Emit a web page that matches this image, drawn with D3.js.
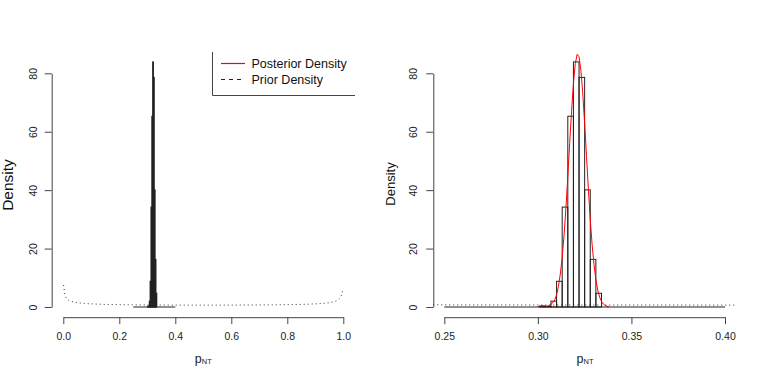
<!DOCTYPE html>
<html><head><meta charset="utf-8">
<script src="https://cdn.jsdelivr.net/npm/d3@7"></script>
<style>
body{margin:0;background:#fff;}
svg{display:block;font-family:"Liberation Sans",Arial,Helvetica,sans-serif;}
</style></head>
<body><svg id="c" width="763" height="382"></svg>
<script>
// ---- data ----
// histogram bins (left edge) and heights (density)
const binStart = [0.301,0.304,0.307,0.310,0.313,0.316,0.319,0.322,0.325,0.328,0.331];
const binWidth = 0.003;
const binDensity = [0.3,0.2,2.0,8.8,34.2,65.3,83.9,78.6,40.1,16.3,4.7];
// posterior density curve (red)
const postX = [0.300,0.301,0.302,0.303,0.304,0.305,0.306,0.307,0.308,0.309,0.310,0.311,0.312,0.313,0.314,0.315,0.316,0.317,0.318,0.319,0.320,0.321,0.322,0.323,0.324,0.325,0.326,0.327,0.328,0.329,0.330,0.331,0.332,0.333,0.334,0.335,0.336,0.337,0.338];
const postY = [0.1,0.3,0.4,0.4,0.3,0.3,0.5,0.9,1.5,2.4,4.2,7.0,11.3,17.0,24.6,33.9,44.7,56.0,67.0,76.5,83.3,86.5,85.7,81.0,73.0,62.8,51.5,40.2,29.9,21.3,14.5,9.3,5.8,3.4,1.9,1.0,0.5,0.2,0.05];
// prior density curve (dotted)
const priorX = [0.001,0.005,0.01,0.02,0.03,0.05,0.075,0.1,0.15,0.2,0.25,0.3,0.35,0.4,0.5,0.6,0.7,0.8,0.85,0.9,0.925,0.95,0.97,0.98,0.99,0.995,0.998];
const priorY = [7.5,4.5,3.2,2.27,1.87,1.46,1.21,1.06,0.891,0.796,0.735,0.695,0.668,0.650,0.637,0.650,0.695,0.796,0.891,1.06,1.21,1.46,1.87,2.27,3.2,4.5,5.8];
// black zero segment
const zeroSegX = [0.25,0.40];
const zeroSegY = [0,0];
// ticks
const yTicks = [0,20,40,60,80];
const xTicksLeft = [0,0.2,0.4,0.6,0.8,1.0];
const xTicksRight = [0.25,0.30,0.35,0.40];
const legendLabels = ["Posterior Density","Prior Density"];
const legendColors = ["#ff0000","#222222"];
const legendDash = [null,"4,4"];

const svg = d3.select("#c");
const ink = "#222";
const axisInk = "#444";

function panel(opts){
  const g = svg.append("g");
  const x = d3.scaleLinear().domain(opts.xDomain).range(opts.xRange);
  const y = d3.scaleLinear().domain([0,80]).range([307,73.3]);
  const clipId = "clip"+opts.id;
  svg.append("clipPath").attr("id",clipId).append("rect")
    .attr("x",opts.clip[0]).attr("y",43.8).attr("width",opts.clip[1]-opts.clip[0]).attr("height",317.1-43.8);
  const pg = g.append("g").attr("clip-path",`url(#${clipId})`);
  // histogram bars
  pg.selectAll("rect.bar").data(binStart).join("rect").attr("class","bar")
    .attr("x",d=>x(d)).attr("width",d=>x(d+binWidth)-x(d))
    .attr("y",(d,i)=>y(binDensity[i])).attr("height",(d,i)=>y(0)-y(binDensity[i]))
    .attr("fill","none").attr("stroke",ink).attr("stroke-width",1);
  const line = d3.line().x(d=>x(d[0])).y(d=>y(d[1]));
  if(opts.showPost){
    pg.append("path").datum(postX.map((v,i)=>[v,postY[i]])).attr("d",line)
      .attr("fill","none").attr("stroke","#ff0000").attr("stroke-width",1);
  }
  pg.append("path").datum(priorX.map((v,i)=>[v,priorY[i]])).attr("d",line)
    .attr("fill","none").attr("stroke","#333").attr("stroke-width",1).attr("stroke-dasharray","1,3");
  pg.append("path").datum(zeroSegX.map((v,i)=>[v,zeroSegY[i]])).attr("d",line)
    .attr("fill","none").attr("stroke",ink).attr("stroke-width",1);

  // axes
  const yAx = g.append("g").attr("transform",`translate(${opts.yAxisX},0)`)
    .call(d3.axisLeft(y).tickValues(yTicks).tickSize(7).tickSizeOuter(0).tickFormat(d3.format("d")));
  yAx.select(".domain").attr("stroke",axisInk);
  yAx.selectAll(".tick line").attr("stroke",axisInk);
  yAx.selectAll(".tick text").attr("x",null).attr("dy","0.35em").attr("text-anchor","middle")
    .attr("transform",`translate(${opts.yLabOff},0) rotate(-90)`)
    .attr("font-size","10.5px").attr("fill","#222");
  const xAx = g.append("g").attr("transform","translate(0,317.2)")
    .call(d3.axisBottom(x).tickValues(opts.xTicks).tickSize(7).tickSizeOuter(0).tickFormat(d3.format(opts.fmt)));
  xAx.select(".domain").attr("stroke",axisInk);
  xAx.selectAll(".tick line").attr("stroke",axisInk);
  xAx.selectAll(".tick text").attr("y",null).attr("dy",null).attr("transform","translate(0,23)")
    .attr("font-size","10.5px").attr("fill","#222");
  yAx.attr("font-family",null); xAx.attr("font-family",null);

  // axis titles
  g.append("text").attr("transform",`translate(${opts.ylabX},${opts.ylabY}) rotate(-90)`)
    .attr("text-anchor","middle").attr("dy","0.35em").attr("font-size",opts.ylabSize+"px").attr("fill","#111").text("Density");
  const t = g.append("text").attr("x",opts.xlabX).attr("y",362.5).attr("text-anchor","middle").attr("fill","#222");
  t.append("tspan").attr("font-size","12.5px").text("p");
  t.append("tspan").attr("font-size","7.5px").attr("dy","1.8").text("NT");
}

panel({id:"L",xDomain:[0,1],xRange:[63.3,343.3],clip:[52.1,354.5],showPost:false,
  yAxisX:51.7,yLabOff:-18.4,xTicks:xTicksLeft,fmt:".1f",ylabX:7.5,ylabY:185,ylabSize:15.5,xlabX:203.3});
panel({id:"R",xDomain:[0.25,0.40],xRange:[444.3,725],clip:[433.1,736.3],showPost:true,
  yAxisX:433.3,yLabOff:-20,xTicks:xTicksRight,fmt:".2f",ylabX:390,ylabY:184,ylabSize:13,xlabX:585});

// legend (box partly outside, only left & bottom edges visible)
const lg = svg.append("g");
lg.append("path").attr("d","M212.5,52V95.5H355").attr("fill","none").attr("stroke",axisInk).attr("stroke-width",1);
lg.selectAll("path.key").data(legendLabels).join("path").attr("class","key")
  .attr("d",(d,i)=>`M221,${63.5+16*i}H245`)
  .attr("fill","none")
  .style("stroke",(d,i)=>legendColors[i])
  .attr("stroke-width",1.2)
  .attr("stroke-dasharray",(d,i)=>legendDash[i]);
lg.selectAll("text").data(legendLabels).join("text")
  .attr("x",251.5).attr("y",(d,i)=>63.5+16*i).attr("dy","0.35em").attr("font-size","12.5px").attr("fill","#111").text(d=>d);
</script></body></html>
